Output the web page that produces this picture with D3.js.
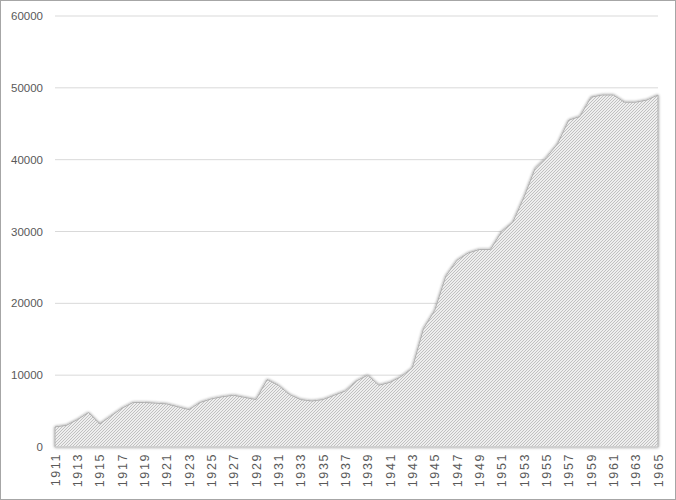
<!DOCTYPE html>
<html><head><meta charset="utf-8">
<script src="https://cdn.jsdelivr.net/npm/d3@7"></script>
<style>body{margin:0;background:#fff}</style>
</head><body>
<script>
var years = d3.range(1911, 1966);
var values = [2800, 3000, 3800, 4800, 3200, 4300, 5400, 6200, 6200, 6100,
  6000, 5600, 5200, 6200, 6700, 7000, 7200, 6900, 6600, 9400,
  8600, 7300, 6600, 6400, 6600, 7200, 7800, 9200, 10000, 8600,
  9000, 9800, 11000, 16500, 19000, 23800, 26000, 27000, 27500, 27500,
  30000, 31300, 34800, 38800, 40300, 42200, 45500, 46000, 48700, 49000,
  49000, 48000, 48000, 48300, 49000];
var yTicks = [0, 10000, 20000, 30000, 40000, 50000, 60000];

var W = 676, H = 500;
var m = {left: 55, right: 18, top: 16, bottom: 53};

var svg = d3.select('body').append('svg').attr('width', W).attr('height', H);
var defs = svg.append('defs');
var pat = defs.append('pattern').attr('id', 'hatch').attr('patternUnits', 'userSpaceOnUse')
  .attr('width', 3).attr('height', 3);
pat.append('rect').attr('width', 3).attr('height', 3).attr('fill', '#eeeeee');
pat.append('path').attr('d', 'M-1,1 l2,-2 M0,3 l3,-3 M2,4 l2,-2')
  .attr('stroke', '#b4b4b4').attr('stroke-width', 0.8);
var f = defs.append('filter').attr('id', 'sh').attr('x', '-5%').attr('y', '-5%').attr('width', '110%').attr('height', '110%');
f.append('feGaussianBlur').attr('in', 'SourceAlpha').attr('stdDeviation', 1.5).attr('result', 'b');
f.append('feComponentTransfer').attr('in', 'b').attr('result', 's')
  .append('feFuncA').attr('type', 'linear').attr('slope', 0.45);
var fm = f.append('feMerge');
fm.append('feMergeNode').attr('in', 's');
fm.append('feMergeNode').attr('in', 'SourceGraphic');

svg.append('rect').attr('x', 0.5).attr('y', 0.5).attr('width', W - 1).attr('height', H - 1)
  .attr('fill', 'none').attr('stroke', '#a6a6a6');

var x = d3.scaleLinear().domain([1911, 1965]).range([m.left, W - m.right]);
var y = d3.scaleLinear().domain([0, 60000]).range([H - m.bottom, m.top]);

svg.append('g').selectAll('line').data(yTicks.slice(1)).join('line')
  .attr('x1', m.left).attr('x2', W - m.right)
  .attr('y1', function(d) { return y(d); }).attr('y2', function(d) { return y(d); })
  .attr('stroke', '#d9d9d9');

svg.append('g').selectAll('text').data(yTicks).join('text')
  .attr('x', m.left - 12).attr('y', function(d) { return y(d); }).attr('dy', '0.35em')
  .attr('text-anchor', 'end').attr('font-family', 'Liberation Sans, Arial').attr('font-size', 11.5)
  .attr('fill', '#595959').text(function(d) { return d; });

var area = d3.area().x(function(d, i) { return x(years[i]); })
  .y0(y(0)).y1(function(d) { return y(d); });
svg.append('path').datum(values).attr('d', area)
  .attr('fill', 'url(#hatch)').attr('stroke', '#b0b0b0').attr('stroke-width', 1)
  .attr('filter', 'url(#sh)');

svg.append('line').attr('x1', m.left).attr('x2', W - m.right)
  .attr('y1', y(0)).attr('y2', y(0)).attr('stroke', '#d9d9d9');

svg.append('g').selectAll('text').data(years.filter(function(d) { return (d - 1911) % 2 === 0; })).join('text')
  .attr('transform', function(d) { return 'translate(' + (x(d) + 4.5) + ',' + (y(0) + 6) + ') rotate(-90)'; })
  .attr('text-anchor', 'end').attr('font-family', 'Liberation Sans, Arial').attr('font-size', 12.5)
  .attr('letter-spacing', 1.6).attr('fill', '#595959').text(function(d) { return d; });
</script>
</body></html>
